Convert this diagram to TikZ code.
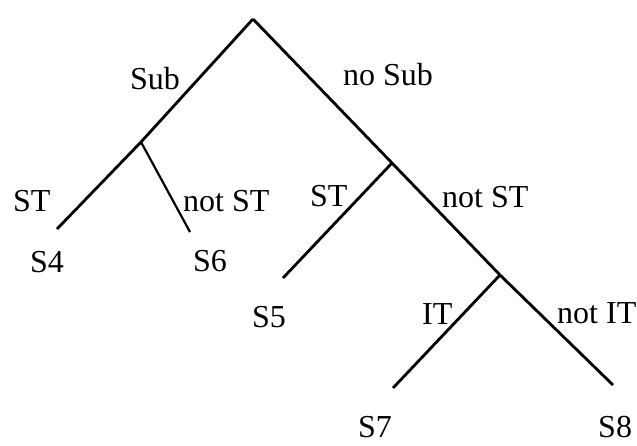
\documentclass[tikz,border=0pt]{standalone}
\usepackage{fontspec}
\setmainfont{Liberation Serif}
\begin{document}
\begin{tikzpicture}[x=1pt,y=-1pt,
  branch/.style={line width=2.8pt,line cap=butt},
  lbl/.style={anchor=base west,inner sep=0pt,font=\fontsize{32}{32}\selectfont}]
\useasboundingbox (0,0) rectangle (637,445);
% junctions and ends
\coordinate (root) at (253,19);
\coordinate (j1) at (141,142);
\coordinate (j2) at (392,163);
\coordinate (j3) at (500,275);
\coordinate (e4) at (57,229);
\coordinate (e6) at (190,232);
\coordinate (e5) at (283,278);
\coordinate (e7) at (393,388);
\coordinate (e8) at (613,385);
% branches
\draw[branch] (root) -- (j1);
\draw[branch] (j1) -- (e4);
\draw[branch,line width=2.2pt] (j1) -- (e6);
\draw[branch] (root) -- (j2);
\draw[branch] (j2) -- (e5);
\draw[branch] (j2) -- (j3);
\draw[branch] (j3) -- (e7);
\draw[branch] (j3) -- (e8);
% labels
\node[lbl] (lsub) at (130,89) {Sub};
\node[lbl] (lnosub) at (343,85) {no Sub};
\node[lbl] (lst1) at (13,211) {ST};
\node[lbl] (lnst1) at (183,211) {not ST};
\node[lbl] (ls4) at (30,272) {S4};
\node[lbl] (ls6) at (193,271) {S6};
\node[lbl] (lst2) at (310,206) {ST};
\node[lbl] (lnst2) at (442,207) {not ST};
\node[lbl] (ls5) at (252,327) {S5};
\node[lbl] (lit) at (422,324) {IT};
\node[lbl] (lnit) at (557,323) {not IT};
\node[lbl] (ls7) at (358,437) {S7};
\node[lbl] (ls8) at (598,437) {S8};
\end{tikzpicture}
\end{document}
